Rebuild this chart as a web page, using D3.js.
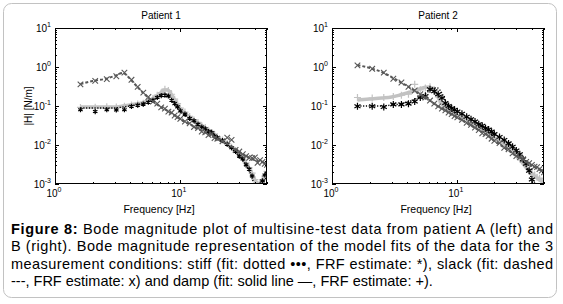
<!DOCTYPE html>
<html>
<head>
<meta charset="utf-8">
<script src="https://cdn.jsdelivr.net/npm/d3@7"></script>
<style>
  body { margin: 0; background: #fff; }
  svg { display: block; font-family: "Liberation Sans", Arial, sans-serif; }
</style>
</head>
<body>
<div id="viz"></div>
<script>
// frequencies [Hz]
var fitFreq = [1.6, 2, 2.5, 3, 3.5, 4, 4.5, 5, 5.5, 6, 6.5, 7, 7.5, 8, 8.5, 9, 10, 12, 14, 17, 20, 25, 30, 35, 38, 40, 42, 45, 50];
var estFreq = [1.6, 2.1, 2.6, 3.1, 3.6, 4.1, 4.6, 5.1, 5.6, 6.1, 6.6, 7.1, 7.6, 8.1, 8.6, 9.1, 9.6, 10.1, 11, 12,
  13, 14, 15, 16, 17, 18, 19, 20, 22, 24, 26, 28, 30, 32, 34, 36, 38, 40, 42, 44, 46, 48, 50];

// patient 1 |H| [N/m]
var p1FitStiff = [0.0889, 0.0889, 0.0889, 0.0889, 0.0943, 0.1, 0.106, 0.1125, 0.127, 0.1426, 0.16, 0.191, 0.203, 0.191, 0.151,
  0.1125, 0.0745, 0.0464, 0.0326, 0.0229, 0.0151, 0.00889, 0.00522, 0.00257, 0.00143, 0.00079, 0.0007, 0.00089, 0.0016];
var p1FitSlack = [0.367, 0.438, 0.492, 0.588, 0.702, 0.492, 0.326, 0.229, 0.17, 0.134, 0.1125, 0.0943, 0.0838, 0.0745, 0.0662,
  0.0588, 0.0464, 0.0345, 0.0257, 0.0191, 0.01426, 0.01, 0.00662, 0.00492, 0.00438, 0.00412, 0.00389, 0.00366, 0.00345];
var p1FitDamp = [0.0943, 0.0943, 0.0943, 0.0943, 0.1, 0.106, 0.1125, 0.119, 0.134, 0.151, 0.18, 0.215, 0.257, 0.257, 0.203,
  0.151, 0.0889, 0.0522, 0.0366, 0.0242, 0.016, 0.00942, 0.00555, 0.0029, 0.0018, 0.00127, 0.00094, 0.00119, 0.00203];
var p1EstStiff = [0.08, 0.072, 0.08, 0.079, 0.08, 0.098, 0.105, 0.112, 0.125, 0.14, 0.165, 0.185, 0.19, 0.18, 0.14, 0.115, 0.095, 0.075, 0.062, 0.048,
  0.042, 0.034, 0.029, 0.026, 0.022, 0.021, 0.017, 0.0155, 0.013, 0.0105, 0.0085, 0.0068, 0.0052, 0.0044, 0.0031, 0.0024, 0.0016, 0.0009, 0.0008, 0.00095,
  0.0012, 0.0017, 0.0019];
var p1EstSlack = [0.36, 0.44, 0.49, 0.58, 0.72, 0.47, 0.31, 0.22, 0.17, 0.13, 0.115, 0.092, 0.086, 0.072, 0.068, 0.057, 0.052, 0.047, 0.04, 0.036,
  0.029, 0.027, 0.022, 0.021, 0.018, 0.019, 0.015, 0.0145, 0.0125, 0.0155, 0.0135, 0.0075, 0.0068, 0.0058, 0.0052, 0.0047, 0.0046, 0.0048, 0.0035, 0.0041,
  0.0037, 0.0033, 0.0031];
var p1EstDamp = [0.092, 0.093, 0.096, 0.094, 0.099, 0.106, 0.113, 0.118, 0.138, 0.155, 0.19, 0.22, 0.27, 0.25, 0.2, 0.15, 0.115, 0.088, 0.07, 0.054,
  0.044, 0.038, 0.031, 0.028, 0.024, 0.021, 0.019, 0.016, 0.0135, 0.011, 0.0088, 0.0072, 0.0057, 0.0047, 0.0035, 0.0026, 0.0019, 0.0013, 0.00098, 0.0011,
  0.0013, 0.0016, 0.0021];

// patient 2 |H| [N/m]
var p2FitStiff = [0.1, 0.1, 0.1, 0.106, 0.1125, 0.127, 0.1426, 0.17, 0.203, 0.242, 0.289, 0.289, 0.229, 0.151, 0.1125,
  0.0943, 0.0745, 0.0522, 0.0389, 0.0273, 0.0191, 0.0119, 0.00702, 0.00345, 0.00203, 0.00127, 0.00079, 0.00062, 0.0007];
var p2FitSlack = [1.125, 0.943, 0.744, 0.554, 0.413, 0.326, 0.257, 0.203, 0.17, 0.1426, 0.119, 0.1, 0.0889, 0.0789, 0.0702,
  0.0624, 0.0522, 0.0366, 0.0273, 0.0191, 0.0127, 0.00789, 0.00522, 0.00389, 0.00326, 0.0029, 0.00273, 0.00243, 0.00203];
var p2FitDamp = [0.1426, 0.151, 0.16, 0.17, 0.191, 0.215, 0.242, 0.273, 0.298, 0.307, 0.257, 0.18, 0.119, 0.0943, 0.0789,
  0.0702, 0.0588, 0.0464, 0.0345, 0.0229, 0.0151, 0.00942, 0.00555, 0.0029, 0.00215, 0.0018, 0.0016, 0.00134, 0.00112];
var p2EstStiff = [0.098, 0.098, 0.094, 0.11, 0.11, 0.115, 0.13, 0.165, 0.18, 0.27, 0.24, 0.2, 0.16, 0.12, 0.1, 0.088, 0.08, 0.072, 0.063, 0.053,
  0.046, 0.04, 0.034, 0.031, 0.027, 0.025, 0.022, 0.019, 0.016, 0.0135, 0.011, 0.009, 0.0072, 0.0058, 0.0043, 0.0033, 0.0022, 0.0013, 0.0009, 0.0007,
  0.0006, 0.0006, 0.0006];
var p2EstSlack = [1.1, 0.9, 0.72, 0.5, 0.4, 0.31, 0.25, 0.2, 0.165, 0.138, 0.115, 0.098, 0.086, 0.077, 0.068, 0.062, 0.055, 0.051, 0.044, 0.037,
  0.033, 0.028, 0.024, 0.02, 0.019, 0.017, 0.0145, 0.0128, 0.0112, 0.0085, 0.0078, 0.0061, 0.0052, 0.0048, 0.0043, 0.0037, 0.0034, 0.0031, 0.0028, 0.0027,
  0.0024, 0.0022, 0.002];
var p2EstDamp = [0.165, 0.16, 0.165, 0.175, 0.19, 0.2, 0.36, 0.26, 0.29, 0.31, 0.26, 0.17, 0.12, 0.095, 0.085, 0.072, 0.064, 0.058, 0.05, 0.045,
  0.039, 0.034, 0.029, 0.026, 0.023, 0.02, 0.018, 0.0155, 0.013, 0.0105, 0.0085, 0.007, 0.0056, 0.0046, 0.0036, 0.003, 0.0024, 0.0019, 0.0017, 0.0015,
  0.0014, 0.0012, 0.0011];

var titles = ["Patient 1", "Patient 2"];
var xDomain = [1, 50];
var yDomain = [1e-3, 10];

var captionLines = [
  ["Figure 8:", " Bode magnitude plot of multisine-test data from patient A (left) and"],
  ["", "B (right). Bode magnitude representation of the model fits of the data for the 3"],
  ["", "measurement conditions: stiff (fit: dotted \u2022\u2022\u2022, FRF estimate: *), slack (fit: dashed"],
  ["", "---, FRF estimate: x) and damp (fit: solid line \u2014, FRF estimate: +)."]
];

var W = 563, H = 304;
var top0 = 28, bottom0 = 184, plotW = 212;

var svg = d3.select("#viz").append("svg").attr("width", W).attr("height", H);

svg.append("rect")
  .attr("x", 3.5).attr("y", 3.5).attr("width", 553).attr("height", 294).attr("rx", 8)
  .attr("fill", "#fff").attr("stroke", "#c2c2c2");

var panels = [
  { left: 55, stiff: [p1FitStiff, p1EstStiff], slack: [p1FitSlack, p1EstSlack], damp: [p1FitDamp, p1EstDamp], ast: 18 },
  { left: 332, stiff: [p2FitStiff, p2EstStiff], slack: [p2FitSlack, p2EstSlack], damp: [p2FitDamp, p2EstDamp], ast: 34 }
];

var cDark = "#585858", cLight = "#c2c2c2", cBlack = "#000";

function isMajor(v) {
  var l = Math.log10(v);
  return Math.abs(l - Math.round(l)) < 1e-6;
}

function tenLabel(sel, exp) {
  sel.append("tspan").text("10");
  sel.append("tspan").attr("dy", -5).attr("font-size", 7).text(exp);
}

panels.forEach(function (p, i) {
  var x = d3.scaleLog().domain(xDomain).range([p.left, p.left + plotW]);
  var y = d3.scaleLog().domain(yDomain).range([bottom0, top0]);
  var g = svg.append("g");

  g.append("clipPath").attr("id", "clip" + i)
    .append("rect").attr("x", p.left).attr("y", top0).attr("width", plotW).attr("height", bottom0 - top0);

  var plot = g.append("g").attr("clip-path", "url(#clip" + i + ")");

  var line = d3.line()
    .x(function (d) { return x(d[0]); })
    .y(function (d) { return y(d[1]); })
    .curve(d3.curveMonotoneX);

  function pairs(f, v) { return f.map(function (d, k) { return [d, v[k]]; }); }

  // damp: solid light grey + markers
  plot.append("path").datum(pairs(fitFreq, p.damp[0]))
    .attr("d", line).attr("fill", "none").attr("stroke", cLight).attr("stroke-width", 3.5);
  plot.selectAll(".dmp").data(pairs(estFreq, p.damp[1])).enter().append("path")
    .attr("transform", function (d) { return "translate(" + x(d[0]) + "," + y(d[1]) + ")"; })
    .attr("d", d3.symbol().type(d3.symbolPlus).size(18))
    .attr("fill", "none").attr("stroke", cLight).attr("stroke-width", 1.2);

  // stiff: dotted black * markers
  plot.append("path").datum(pairs(fitFreq, p.stiff[0]))
    .attr("d", line).attr("fill", "none").attr("stroke", cBlack).attr("stroke-width", 1.4)
    .attr("stroke-dasharray", "1.2,1.6");
  plot.selectAll(".stf").data(pairs(estFreq, p.stiff[1])).enter().append("path")
    .attr("transform", function (d) { return "translate(" + x(d[0]) + "," + y(d[1]) + ")"; })
    .attr("d", d3.symbol().type(d3.symbolAsterisk).size(p.ast))
    .attr("fill", "none").attr("stroke", cBlack).attr("stroke-width", 1.2);

  // slack: dashed dark grey x markers
  plot.append("path").datum(pairs(fitFreq, p.slack[0]))
    .attr("d", line).attr("fill", "none").attr("stroke", cDark).attr("stroke-width", 2)
    .attr("stroke-dasharray", "3,2");
  plot.selectAll(".slk").data(pairs(estFreq, p.slack[1])).enter().append("path")
    .attr("transform", function (d) { return "translate(" + x(d[0]) + "," + y(d[1]) + ")"; })
    .attr("d", d3.symbol().type(d3.symbolX).size(22))
    .attr("fill", "none").attr("stroke", cDark).attr("stroke-width", 1.1);

  // box
  g.append("rect").attr("x", p.left + 0.5).attr("y", top0 + 0.5)
    .attr("width", plotW - 1).attr("height", bottom0 - top0 - 1)
    .attr("fill", "none").attr("stroke", "#000").attr("stroke-width", 1);

  // ticks, inward on all sides
  x.ticks().forEach(function (t) {
    var len = isMajor(t) ? 4 : 2, px = Math.round(x(t)) + 0.5;
    g.append("line").attr("x1", px).attr("x2", px).attr("y1", bottom0).attr("y2", bottom0 - len).attr("stroke", "#000");
    g.append("line").attr("x1", px).attr("x2", px).attr("y1", top0).attr("y2", top0 + len).attr("stroke", "#000");
  });
  y.ticks().forEach(function (t) {
    var len = isMajor(t) ? 4 : 2, py = Math.round(y(t)) + 0.5;
    g.append("line").attr("y1", py).attr("y2", py).attr("x1", p.left).attr("x2", p.left + len).attr("stroke", "#000");
    g.append("line").attr("y1", py).attr("y2", py).attr("x1", p.left + plotW).attr("x2", p.left + plotW - len).attr("stroke", "#000");
  });

  // tick labels
  y.ticks().filter(isMajor).forEach(function (t) {
    var lbl = g.append("text").attr("x", p.left - 4).attr("y", y(t) + 4)
      .attr("text-anchor", "end").attr("font-size", 10);
    tenLabel(lbl, String(Math.round(Math.log10(t))));
  });
  x.ticks().filter(isMajor).forEach(function (t) {
    var lbl = g.append("text").attr("x", x(t) - 1).attr("y", bottom0 + 13)
      .attr("text-anchor", "middle").attr("font-size", 10);
    tenLabel(lbl, String(Math.round(Math.log10(t))));
  });

  g.append("text").attr("x", p.left + plotW / 2).attr("y", 19)
    .attr("text-anchor", "middle").attr("font-size", 10).text(titles[i]);
  g.append("text").attr("x", p.left + plotW / 2 - 2).attr("y", 213)
    .attr("text-anchor", "middle").attr("font-size", 10.5).text("Frequency [Hz]");
  if (i === 0) {
    g.append("text").attr("transform", "translate(32," + ((top0 + bottom0) / 2) + ") rotate(-90)")
      .attr("text-anchor", "middle").attr("font-size", 10).text("|H| [N/m]");
  }
});

// caption
var cap = svg.append("g").attr("font-size", 14.5);
captionLines.forEach(function (ln, k) {
  var t = cap.append("text").attr("x", 11).attr("y", 234 + k * 17.3);
  if (ln[0]) t.append("tspan").attr("font-weight", "bold").text(ln[0]);
  t.append("tspan").text(ln[1]);
  if (k < 3) t.attr("textLength", 542).attr("lengthAdjust", "spacing");
});
</script>
</body>
</html>
